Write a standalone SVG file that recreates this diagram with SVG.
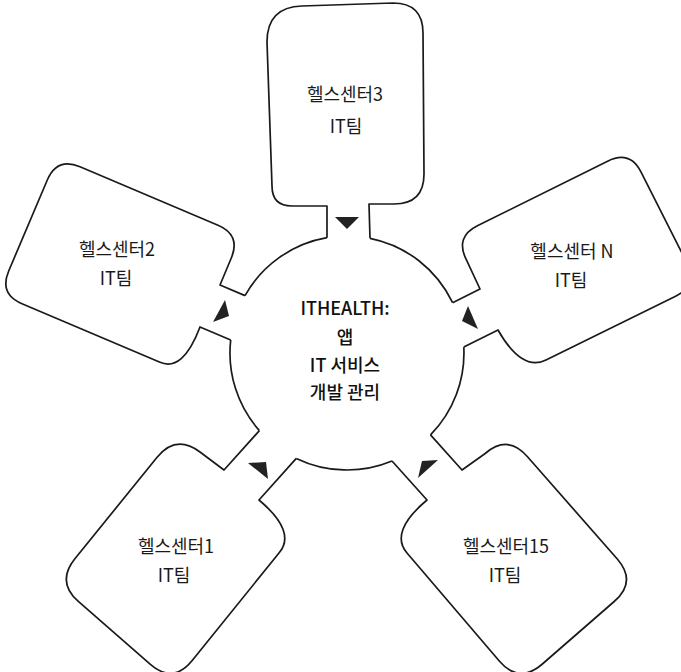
<svg xmlns="http://www.w3.org/2000/svg" width="681" height="672" viewBox="0 0 681 672">
<style>
.o{fill:#fff;stroke:#1a1a1a;stroke-width:1.7;stroke-linejoin:round}
.t{font-family:"Noto Sans CJK KR","Noto Sans",sans-serif;font-size:18px;font-weight:400;fill:#1a1a1a;text-anchor:middle}
.c{font-size:18px;font-weight:500;fill:#111}
.a{fill:#222}
</style>
<rect width="681" height="672" fill="#fff"/>
<g id="center">
<circle cx="347" cy="353" r="117" fill="#fff"/>
<path class="o" style="fill:none" d="M327,237.7 A117,117 0 0 0 245,295.6 M230.7,340 A117,117 0 0 0 259.4,430.6 M296.3,458.4 A117,117 0 0 0 392,461 M430.5,434.9 A117,117 0 0 0 463.8,347.1 M452.6,302.7 A117,117 0 0 0 370,238.3"/>
<text class="t c" x="345" y="315">ITHEALTH:</text>
<text class="t c" x="345" y="343.5">앱</text>
<text class="t c" x="345" y="372">IT 서비스</text>
<text class="t c" x="345" y="399">개발 관리</text>
</g>
<g id="box3">
<path class="o" d="M370,238.3 L369,204 L394,204 Q424,204 424,174 L423,33 Q423,3 393,3 L302,6 Q267,7 267,42 L272,186 Q272,206 292,206 L327,206 L327,237.7"/>
<text class="t" x="345" y="101">헬스센터3</text>
<text class="t" x="346" y="133">IT팀</text>
</g>
<g id="box2">
<path class="o" d="M245,295.6 L220,285 L231.3,258 Q241,235 218,225.3 L80,166.7 Q57,157 47.3,180 L8.7,271 Q-1,294 22,303.7 L160,362.3 Q183,372 200,327 L230.7,340"/>
<text class="t" x="117" y="256">헬스센터2</text>
<text class="t" x="116" y="285">IT팀</text>
</g>
<g id="box1">
<path class="o" d="M259.4,430.6 L224,470 L200,452 Q176,434 157.1,457.3 L74.9,558.7 Q56,582 78.6,601.7 L150.4,664.3 Q173,684 192,660.8 L279,553 Q297,532 259,500 L296.3,458.4"/>
<text class="t" x="176" y="553">헬스센터1</text>
<text class="t" x="174" y="582">IT팀</text>
</g>
<g id="box15">
<path class="o" d="M392,461 L427,500 Q389,532 407,553 L499.5,661.2 Q519,684 541.8,664.5 L614.2,601.5 Q637,582 617.5,559.2 L527.5,456.8 Q508,434 485.2,453.5 L462,470 L430.5,434.9"/>
<text class="t" x="506" y="553">헬스센터15</text>
<text class="t" x="505" y="582">IT팀</text>
</g>
<g id="boxN">
<path class="o" d="M463.8,347.1 L498,330 Q522,372 546,360 L675.6,296.2 Q698,285 686.8,262.6 L641.2,172.4 Q630,150 607.6,161.2 L477.4,225.8 Q455,237 466.2,259.4 L480,289 L452.6,302.7"/>
<text class="t" x="572" y="258">헬스센터 N</text>
<text class="t" x="571" y="287">IT팀</text>
</g>
<g id="connectors">
<polygon class="a" points="335,217 359,217 347,229"/>
<polygon class="a" points="225,300 213,322 229,316"/>
<polygon class="a" points="468,306 462,321 478,329"/>
<polygon class="a" points="248,463 266,462 268,479"/>
<polygon class="a" points="422,461 438,460 418,478"/>
</g>
</svg>
